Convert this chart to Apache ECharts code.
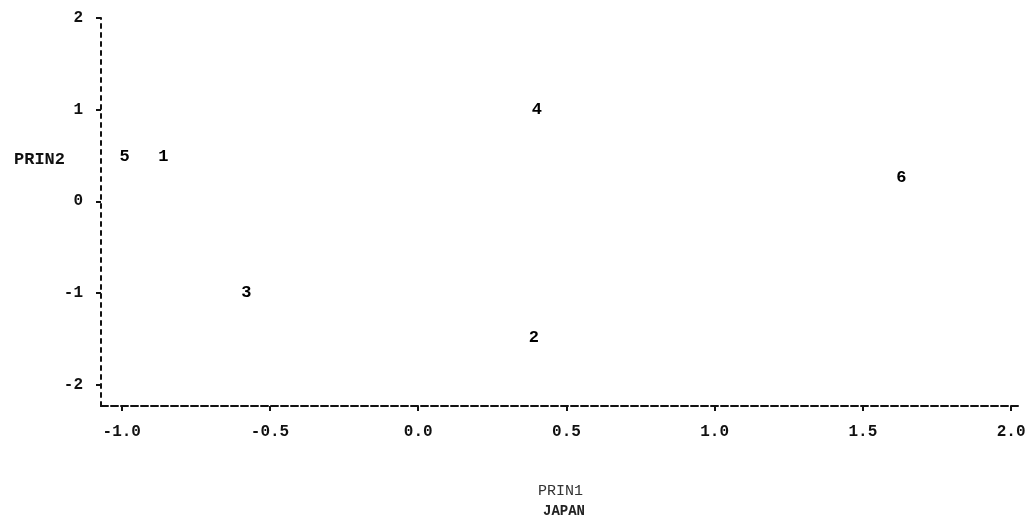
<!DOCTYPE html>
<html>
<head>
<meta charset="utf-8">
<script src="https://cdn.jsdelivr.net/npm/echarts@6/dist/echarts.min.js"></script>
<style>
  html, body { margin: 0; padding: 0; background: #fff; }
  #chart { width: 1034px; height: 517px; }
</style>
</head>
<body>
<div id="chart"></div>
<script>
// plot symbols (observation numbers) and their coordinates
var pointLabels = ['1', '2', '3', '4', '5', '6'];
var prin1 = [-0.86, 0.39, -0.58, 0.40, -0.99, 1.63];
var prin2 = [0.49, -1.49, -1.00, 1.00, 0.49, 0.26];

var xTicks = [-1.0, -0.5, 0.0, 0.5, 1.0, 1.5, 2.0];
var yTicks = [-2, -1, 0, 1, 2];

var monoFont = '"Liberation Mono", "DejaVu Sans Mono", monospace';

var chart = echarts.init(document.getElementById('chart'));

var points = [];
for (var i = 0; i < pointLabels.length; i++) {
    points.push({ value: [prin1[i], prin2[i]], name: pointLabels[i] });
}

var option = {
    backgroundColor: '#fff',
    animation: false,
    title: [
        {
            text: 'PRIN2',
            left: 9, top: 146,
            textStyle: { fontFamily: monoFont, fontSize: 17, fontWeight: 'bold', color: '#111' }
        },
        {
            text: 'JAPAN',
            left: 538, top: 499,
            textStyle: { fontFamily: monoFont, fontSize: 14, fontWeight: 'bold', color: '#222' }
        }
    ],
    grid: { left: 101, right: 14, top: 18, bottom: 111 },
    xAxis: {
        type: 'value',
        min: -1.07,
        max: 2.03,
        name: 'PRIN1',
        nameLocation: 'middle',
        nameGap: 78,
        nameTextStyle: { fontFamily: monoFont, fontSize: 15, color: '#333' },
        axisLine: { onZero: false, lineStyle: { color: '#111', width: 2, type: [7, 3] } },
        axisTick: { customValues: xTicks, length: 5, lineStyle: { color: '#111', width: 2 } },
        axisLabel: {
            customValues: xTicks,
            margin: 18,
            fontFamily: monoFont, fontSize: 16, fontWeight: 'bold', color: '#111',
            formatter: function (v) { return v.toFixed(1); }
        },
        splitLine: { show: false }
    },
    yAxis: {
        type: 'value',
        min: -2.23,
        max: 2,
        axisLine: { onZero: false, lineStyle: { color: '#111', width: 2, type: [4, 5] } },
        axisTick: { customValues: yTicks, length: 5, lineStyle: { color: '#111', width: 2 } },
        axisLabel: {
            customValues: yTicks,
            margin: 18,
            fontFamily: monoFont, fontSize: 16, fontWeight: 'bold', color: '#111',
            formatter: function (v) { return String(v); }
        },
        splitLine: { show: false }
    },
    series: [{
        type: 'scatter',
        data: points,
        symbolSize: 1,
        itemStyle: { color: '#fff', opacity: 1 },
        label: {
            show: true,
            position: 'inside',
            formatter: function (p) { return p.name; },
            fontFamily: monoFont, fontSize: 17, fontWeight: 'bold', color: '#000'
        }
    }]
};

chart.setOption(option);
window.onresize = function () {
    chart.resize();
};
</script>
</body>
</html>
